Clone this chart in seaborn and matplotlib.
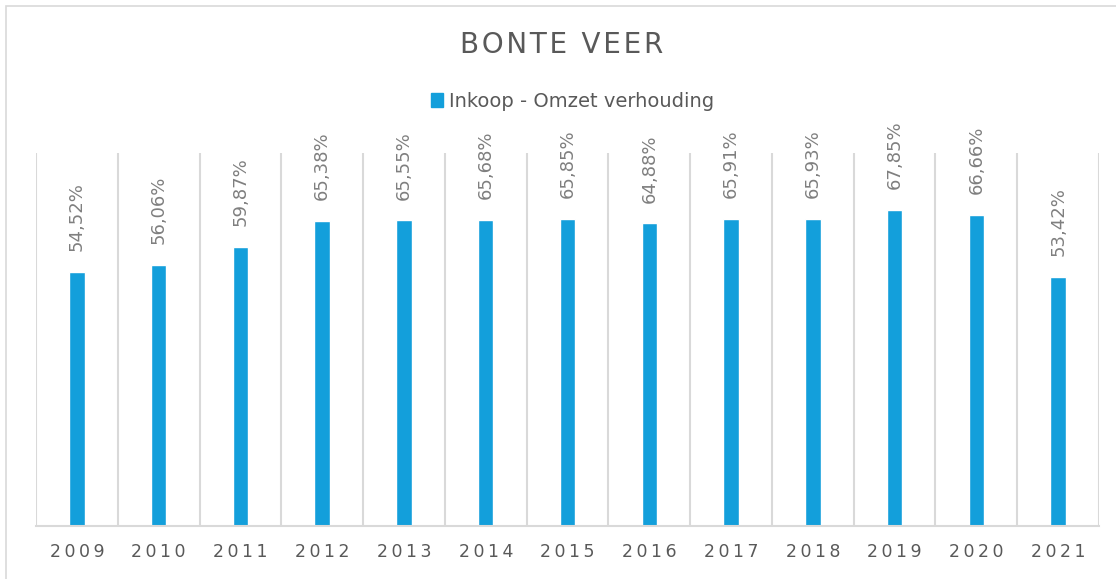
import matplotlib
matplotlib.use("Agg")
import matplotlib.pyplot as plt
import seaborn as sns
import pandas as pd
from matplotlib.patches import Patch, Rectangle

# Data
years = ["2009", "2010", "2011", "2012", "2013", "2014", "2015",
         "2016", "2017", "2018", "2019", "2020", "2021"]
ratio = [54.52, 56.06, 59.87, 65.38, 65.55, 65.68, 65.85,
         64.88, 65.91, 65.93, 67.85, 66.66, 53.42]
series_name = "Inkoop - Omzet verhouding"
title = "BONTE VEER"

BAR = "#139FDB"
GRID = "#D9D9D9"
TXT = "#595959"

df = pd.DataFrame({"Jaar": years, "Verhouding": ratio})

sns.set_style("white")
plt.rcParams['font.family'] = ['DejaVu Sans']

fig = plt.figure(figsize=(11.16, 5.79), dpi=100)
ax = fig.add_axes([36 / 1116, 53 / 579, (1099 - 36) / 1116, (526 - 153) / 579])

sns.barplot(data=df, x="Jaar", y="Verhouding", color=BAR, width=0.19,
            saturation=1, ax=ax)

ax.set_ylim(0, 80)
ax.set_xlim(-0.5, len(years) - 0.5)
ax.set_yticks([])
ax.set_xlabel("")
ax.set_ylabel("")

# vertical category separators
ax.set_xticks([i - 0.5 for i in range(len(years) + 1)], minor=True)
ax.grid(True, which="minor", axis="x", color=GRID, lw=1.5)
ax.tick_params(axis="x", which="both", length=0)
ax.set_xticks(range(len(years)))
ax.set_xticklabels(["\u2009".join(y) for y in years], fontsize=12.5,
                   color=TXT)
ax.tick_params(axis="x", which="major", pad=12)

for side in ["top", "right", "left"]:
    ax.spines[side].set_visible(False)
ax.spines["bottom"].set_color(GRID)
ax.spines["bottom"].set_linewidth(1.5)

ax.bar_label(ax.containers[0],
             labels=[f"{v:.2f}".replace(".", ",") + "%" for v in ratio],
             rotation=90, padding=15, fontsize=13, color="#7F7F7F")

fig.text(0.503, 0.922, "\u200a".join(title), ha="center", va="center",
         fontsize=20, color=TXT)

fig.legend(handles=[Patch(color=BAR, label=series_name)],
           loc="center", bbox_to_anchor=(0.513, 0.825), frameon=False,
           fontsize=14, labelcolor=TXT, handlelength=0.65, handleheight=0.7,
           handletextpad=0.3)

# outer chart border
fig.patches.append(Rectangle((6 / 1116, -0.05), 1.1, 0.05 + 573 / 579,
                             transform=fig.transFigure, fill=False,
                             edgecolor=GRID, lw=1.2))

fig.savefig("out.png", dpi=100)
